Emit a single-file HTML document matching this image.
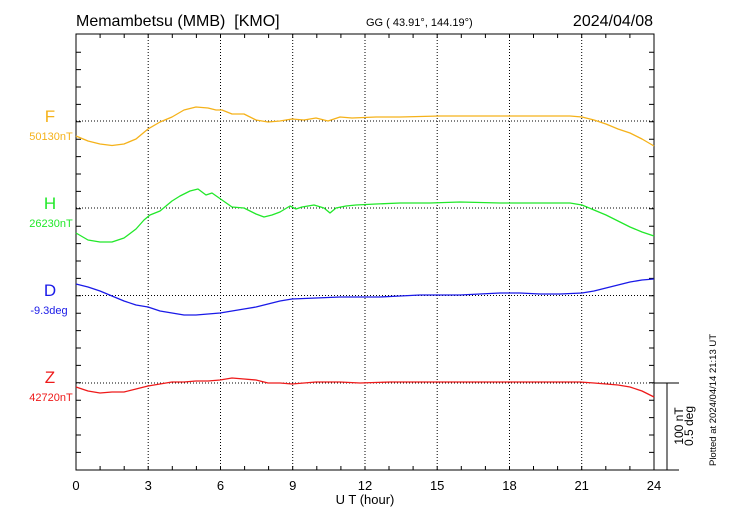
<!DOCTYPE html>
<html><head><meta charset="utf-8"><style>
html,body{margin:0;padding:0;background:#fff;width:730px;height:520px;overflow:hidden}
svg{display:block;font-family:"Liberation Sans",Arial,sans-serif}
</style></head><body>
<svg width="730" height="520" viewBox="0 0 730 520" xmlns="http://www.w3.org/2000/svg">
<g stroke="#000" stroke-width="1" stroke-dasharray="1,2" fill="none">
<line x1="148.2" y1="34" x2="148.2" y2="470"/><line x1="220.5" y1="34" x2="220.5" y2="470"/>
<line x1="292.7" y1="34" x2="292.7" y2="470"/><line x1="365" y1="34" x2="365" y2="470"/>
<line x1="437.2" y1="34" x2="437.2" y2="470"/><line x1="509.5" y1="34" x2="509.5" y2="470"/>
<line x1="581.7" y1="34" x2="581.7" y2="470"/>
<line x1="76" y1="121" x2="654" y2="121"/><line x1="76" y1="208" x2="654" y2="208"/>
<line x1="76" y1="295.5" x2="654" y2="295.5"/><line x1="76" y1="383" x2="654" y2="383"/>
</g>
<g stroke="#000" stroke-width="1" fill="none">
<rect x="76" y="34" width="578" height="436"/>
<line x1="654" y1="470" x2="679" y2="470"/><line x1="654" y1="383" x2="679" y2="383"/>
<line x1="667" y1="383" x2="667" y2="470"/>
<path d="M100.1 34v4M124.2 34v4M148.2 34v4M172.3 34v4M196.4 34v4M220.5 34v4M244.6 34v4M268.6 34v4M292.7 34v4M316.8 34v4M340.9 34v4M365 34v4M389 34v4M413.1 34v4M437.2 34v4M461.3 34v4M485.4 34v4M509.5 34v4M533.5 34v4M557.6 34v4M581.7 34v4M605.8 34v4M629.9 34v4
M100.1 470v-4M124.2 470v-4M148.2 470v-4M172.3 470v-4M196.4 470v-4M220.5 470v-4M244.6 470v-4M268.6 470v-4M292.7 470v-4M316.8 470v-4M340.9 470v-4M365 470v-4M389 470v-4M413.1 470v-4M437.2 470v-4M461.3 470v-4M485.4 470v-4M509.5 470v-4M533.5 470v-4M557.6 470v-4M581.7 470v-4M605.8 470v-4M629.9 470v-4"/>
<path d="M76 52.2h5M76 69.6h5M76 87h5M76 104.4h5M76 121.8h5M76 139.2h5M76 156.6h5M76 174h5M76 191.4h5M76 208.8h5M76 226.2h5M76 243.6h5M76 261h5M76 278.4h5M76 295.8h5M76 313.2h5M76 330.6h5M76 348h5M76 365.4h5M76 382.8h5M76 400.2h5M76 417.6h5M76 435h5M76 452.4h5
M654 52.2h-5M654 69.6h-5M654 87h-5M654 104.4h-5M654 121.8h-5M654 139.2h-5M654 156.6h-5M654 174h-5M654 191.4h-5M654 208.8h-5M654 226.2h-5M654 243.6h-5M654 261h-5M654 278.4h-5M654 295.8h-5M654 313.2h-5M654 330.6h-5M654 348h-5M654 365.4h-5M654 382.8h-5M654 400.2h-5M654 417.6h-5M654 435h-5M654 452.4h-5"/>
</g>
<g fill="none" stroke-width="1.3" stroke-linejoin="round">
<polyline stroke="#f5b21a" points="76,136 88,141 100,144 112,145.5 124,144 136,139 148,129 160,122 172,117 184,110 196,107 208,108 216,110 222,110 232,114 244,114 256,120 268,122 280,121 292,119 304,120 316,118 328,121 340,117 352,118 376,117 400,117 440,116 470,116 500,116 540,116 570,116 582,117 594,120 606,124 618,129 630,133 642,139 654,146"/>
<polyline stroke="#22e82a" points="76,233 88,240 100,242 112,242 124,238 136,229 144,220 150,215 160,211 172,201 180,196 190,191 198,189 206,195 212,193 222,200 232,207 244,208 256,214 264,217 272,215 280,212 290,206 296,209 302,207 314,205 324,208 330,213 336,208 346,206 356,205 376,204 400,203 430,203 460,202 500,203 540,203 570,203 582,205 594,210 606,215 618,221 630,227 642,232 654,236"/>
<polyline stroke="#1a1ae8" points="76,284 88,287 100,291 112,296 124,301 136,305 148,307 160,311 172,313 184,315 196,315 208,314 220,313 232,311 244,309 256,307 268,304 280,301 292,299 316,298 340,297 380,297 400,296 420,295 440,295 460,295 480,294 500,293 520,293 540,294 560,294 582,293 594,291 606,288 618,285 630,282 642,280 654,279"/>
<polyline stroke="#ee1a1a" points="76,387 88,391 100,393 112,392 124,392 136,389 148,386 160,384 172,382 184,382 196,381 208,381 220,380 232,378 244,379 256,380 268,383 280,383 292,384 304,383 316,382 340,382 360,383 390,382 420,382 460,382 500,382 540,382 580,382 594,383 606,384 618,385 630,387 642,391 654,397"/>
</g>
<g fill="#000">
<text x="76" y="26" font-size="16" xml:space="preserve">Memambetsu (MMB)  [KMO]</text>
<text x="366" y="26" font-size="11">GG ( 43.91°, 144.19°)</text>
<text x="653" y="26" font-size="16" text-anchor="end">2024/04/08</text>
<g font-size="13" text-anchor="middle">
<text x="76" y="490">0</text><text x="148.2" y="490">3</text><text x="220.5" y="490">6</text><text x="292.7" y="490">9</text><text x="365" y="490">12</text><text x="437.2" y="490">15</text><text x="509.5" y="490">18</text><text x="581.7" y="490">21</text><text x="654" y="490">24</text>
<text x="365" y="504">U T (hour)</text>
</g>
<text transform="translate(683,426) rotate(-90)" font-size="12" text-anchor="middle">100 nT</text>
<text transform="translate(693,426) rotate(-90)" font-size="12" text-anchor="middle">0.5 deg</text>
<text transform="translate(716,400) rotate(-90)" font-size="9.5" text-anchor="middle">Plotted at 2024/04/14 21:13 UT</text>
</g>
<g text-anchor="middle">
<text x="50" y="122" font-size="17" fill="#f5b21a">F</text><text x="51" y="140" font-size="11" fill="#f5b21a">50130nT</text>
<text x="50" y="209" font-size="17" fill="#22e82a">H</text><text x="51" y="227" font-size="11" fill="#22e82a">26230nT</text>
<text x="50" y="296" font-size="17" fill="#1a1ae8">D</text><text x="49" y="314" font-size="11" fill="#1a1ae8">-9.3deg</text>
<text x="50" y="383" font-size="17" fill="#ee1a1a">Z</text><text x="51" y="401" font-size="11" fill="#ee1a1a">42720nT</text>
</g>
</svg>
</body></html>
